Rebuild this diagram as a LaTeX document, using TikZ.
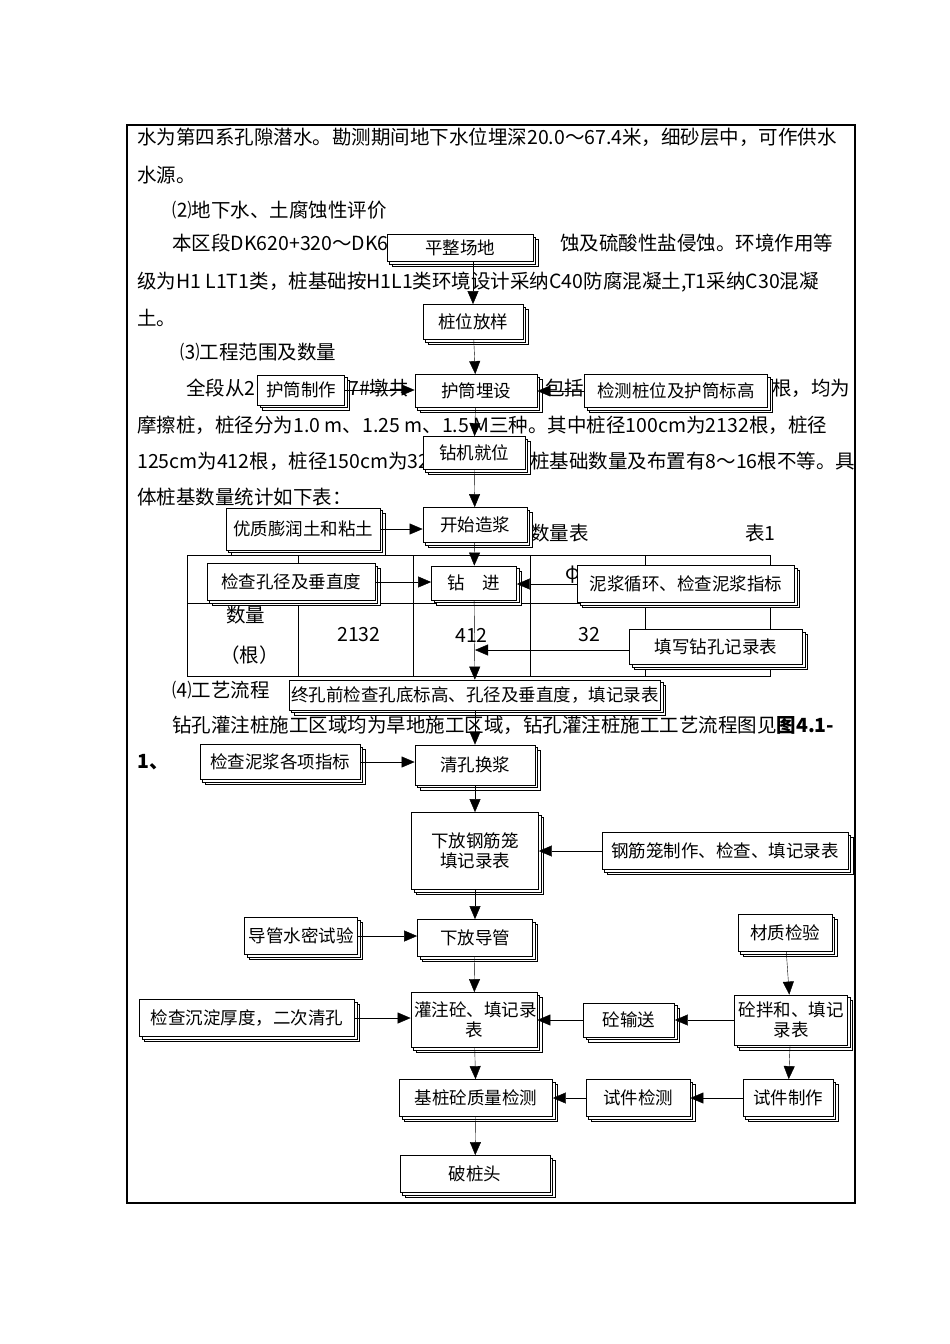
\documentclass[tikz,border=0pt]{standalone}
\usepackage{fontspec}
\setmainfont{Noto Sans CJK SC}
\usetikzlibrary{shadows,arrows.meta}
\tikzset{
 box/.style={draw, thick, fill=white, double copy shadow={shadow xshift=2.5pt, shadow yshift=-2.5pt}, inner sep=2pt, align=center, font=\fontsize{17.5}{20}\selectfont},
 body/.style={anchor=west, inner sep=0pt, font=\fontsize{19.5}{21}\selectfont},
 arr/.style={-{Triangle[length=13pt,width=11pt]}, thin},
 tab/.style={thin}
}
\begin{document}
\begin{tikzpicture}[x=1pt,y=-1pt]
\useasboundingbox (0,0) rectangle (950,1344);
\draw[line width=1.2pt] (127,125) rectangle (855,1203);
% body text
\node[body] (t1) at (137,137) {水为第四系孔隙潜水。勘测期间地下水位埋深20.0～67.4米，细砂层中，可作供水};
\node[body] (t2) at (137,175) {水源。};
\node[body] (t3) at (172,210) {⑵地下水、土腐蚀性评价};
\node[body] (t4) at (172,243) {本区段DK620+320～DK622};
\node[body] (t4b) at (560,243) {蚀及硫酸性盐侵蚀。环境作用等};
\node[body] (t5) at (137,282) {级为H1 L1T1类，桩基础按H1L1类环境设计采纳C40防腐混凝土,T1采纳C30混凝};
\node[body] (t6) at (137,318) {土。};
\node[body] (t7) at (180,352) {⑶工程范围及数量};
\node[body] (t8) at (186,388) {全段从2};
\node[body] (t8b) at (348,388) {7\#墩共};
\node[body] (t8c) at (545,388) {包括};
\node[body] (t8d) at (772,388) {根，均为};
\node[body] (t9) at (137,425) {摩擦桩，桩径分为1.0 m、1.25 m、1.5 M三种。其中桩径100cm为2132根，桩径};
\node[body] (t10) at (137,461) {125cm为412根，桩径150cm为32};
\node[body] (t10b) at (530,461) {桩基础数量及布置有8～16根不等。具};
\node[body] (t11) at (137,497) {体桩基数量统计如下表：};
\node[body] (t12) at (530,533) {数量表};
\node[body] (t13) at (745,533) {表1};
% table
\draw[tab] (187,555) rectangle (770,676);
\draw[tab] (187,603) -- (770,603);
\foreach \x in {298,413,530,645} \draw[tab] (\x,555) -- (\x,676);
\node[body] (c1) at (226,615) {数量};
\node[body] (c2) at (220,655) {（根）};
\node[body] (c3) at (337,635) {2132};
\node[body] (c4) at (455,635) {412};
\node[body] (c5) at (578,635) {32};
\node[body] (c6) at (565,575) {φ};
\node[body] (t14) at (172,690) {⑷工艺流程};
\node[body] (t15) at (172,725) {钻孔灌注桩施工区域均为旱地施工区域，钻孔灌注桩施工工艺流程图见\textbf{图4.1-}};
\node[body] (t16) at (137,762) {\textbf{1、}};
% boxes
\node[box, minimum width=146, minimum height=27] (n1) at (460,248) {平整场地};
\node[box, minimum width=100, minimum height=35] (n2) at (473,322) {桩位放样};
\node[box, minimum width=87, minimum height=30] (n3) at (301,390) {护筒制作};
\node[box, minimum width=122, minimum height=33] (n4) at (476,391) {护筒埋设};
\node[box, minimum width=183, minimum height=33] (n5) at (676,391) {检测桩位及护筒标高};
\node[box, minimum width=102, minimum height=33] (n6) at (474,453) {钻机就位};
\node[box, minimum width=154, minimum height=42] (n7) at (303,529) {优质膨润土和粘土};
\node[box, minimum width=104, minimum height=35] (n8) at (475,525) {开始造浆};
\node[box, minimum width=168, minimum height=37] (n9) at (291,582) {检查孔径及垂直度};
\node[box, minimum width=85, minimum height=34] (n10) at (474,583) {钻\quad 进};
\node[box, minimum width=217, minimum height=37] (n11) at (686,584) {泥浆循环、检查泥浆指标};
\node[box, minimum width=173, minimum height=35] (n12) at (716,647) {填写钻孔记录表};
\node[box, minimum width=370, minimum height=30] (n13) at (475,695) {终孔前检查孔底标高、孔径及垂直度，填记录表};
\node[box, minimum width=160, minimum height=35] (n14) at (280,762) {检查泥浆各项指标};
\node[box, minimum width=120, minimum height=40] (n15) at (475,765) {清孔换浆};
\node[box, minimum width=127, minimum height=77, text width=115] (n16) at (475,851) {下放钢筋笼\\填记录表};
\node[box, minimum width=246, minimum height=37] (n17) at (725,851) {钢筋笼制作、检查、填记录表};
\node[box, minimum width=113, minimum height=37] (n18) at (301,936) {导管水密试验};
\node[box, minimum width=115, minimum height=37] (n19) at (475,938) {下放导管};
\node[box, minimum width=94, minimum height=37] (n20) at (785,933) {材质检验};
\node[box, minimum width=215, minimum height=37] (n21) at (247,1018) {检查沉淀厚度，二次清孔};
\node[box, minimum width=126, minimum height=55, text width=120] (n22) at (474,1020) {灌注砼、填记录\\表};
\node[box, minimum width=91, minimum height=34] (n23) at (629,1020) {砼输送};
\node[box, minimum width=113, minimum height=50, text width=108] (n24) at (791,1020) {砼拌和、填记\\录表};
\node[box, minimum width=153, minimum height=37] (n25) at (476,1098) {基桩砼质量检测};
\node[box, minimum width=104, minimum height=37] (n26) at (638,1098) {试件检测};
\node[box, minimum width=90, minimum height=37] (n27) at (788,1098) {试件制作};
\node[box, minimum width=150, minimum height=37] (n28) at (475,1174) {破桩头};
\coordinate (j1) at (475,650);
% arrows
\draw[arr] (n1.south -| n2) -- (n2.north);
\draw[arr] (n2) -- (n4);
\draw[arr] (n3.east) -- (n4.west |- n3.east);
\draw[arr] (n5.west) -- (n4.east |- n5.west);
\draw[arr] (n4) -- (n6);
\draw[arr] (n6) -- (n8);
\draw[arr] (n7.east) -- (n8.west |- n7.east);
\draw[arr] (n8) -- (n10);
\draw[arr] (n9.east) -- (n10.west |- n9.east);
\draw[arr] (n11.west) -- (n10.east |- n11.west);
\draw[arr] (n10) -- (n13);
\draw[arr] (n12.west |- j1) -- (j1);
\draw[arr] (n13) -- (n15);
\draw[arr] (n14.east) -- (n15.west |- n14.east);
\draw[arr] (n15) -- (n16);
\draw[arr] (n17.west) -- (n16.east |- n17.west);
\draw[arr] (n16) -- (n19);
\draw[arr] (n18.east) -- (n19.west |- n18.east);
\draw[arr] (n19) -- (n22);
\draw[arr] (n21.east) -- (n22.west |- n21.east);
\draw[arr] (n23.west) -- (n22.east |- n23.west);
\draw[arr] (n20) -- (n24);
\draw[arr] (n24.west) -- (n23.east |- n24.west);
\draw[arr] (n24) -- (n27);
\draw[arr] (n27) -- (n26);
\draw[arr] (n26) -- (n25);
\draw[arr] (n22) -- (n25);
\draw[arr] (n25) -- (n28);
\end{tikzpicture}
\end{document}
